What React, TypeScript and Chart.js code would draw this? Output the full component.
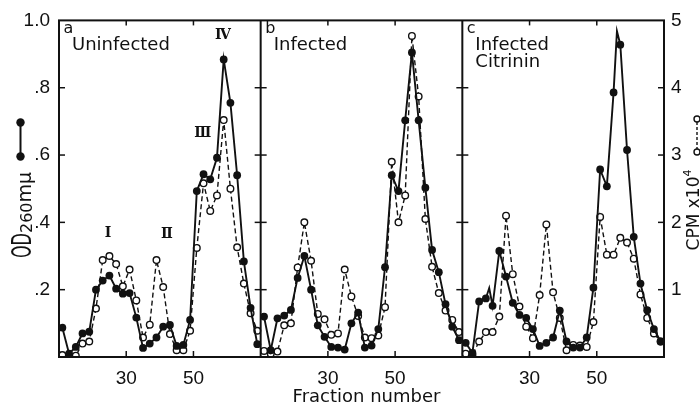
import React, { useEffect, useRef } from "react";
import { Chart, registerables } from "chart.js";

Chart.register(...registerables);

// ---------------- data ----------------
const fractions = [11, 13, 15, 17, 19, 21, 23, 25, 27, 29, 31, 33, 35, 37, 39, 41, 43, 45, 47, 49, 51, 53, 55, 57, 59, 61, 63, 65, 67, 69];

// a: Uninfected
const odUninfected = [0.087, 0.01, 0.03, 0.07, 0.075, 0.2, 0.227, 0.242, 0.203, 0.188, 0.19, 0.117, 0.027, 0.04, 0.058, 0.09, 0.095, 0.033, 0.036, 0.11, 0.493, 0.543, 0.528, 0.592, 0.884, 0.755, 0.54, 0.284, 0.146, 0.038];
const cpmUninfected = [0.03, 0.0, 0.02, 0.2, 0.23, 0.72, 1.44, 1.5, 1.38, 1.05, 1.3, 0.84, 0.29, 0.48, 1.44, 1.04, 0.34, 0.1, 0.1, 0.39, 1.62, 2.58, 2.17, 2.4, 3.52, 2.5, 1.63, 1.09, 0.65, 0.39];

// b: Infected
const odInfected = [0.12, 0.02, 0.115, 0.123, 0.14, 0.235, 0.3, 0.2, 0.094, 0.06, 0.03, 0.028, 0.022, 0.1, 0.132, 0.028, 0.034, 0.083, 0.267, 0.54, 0.493, 0.703, 0.905, 0.703, 0.503, 0.318, 0.252, 0.157, 0.09, 0.05];
const cpmInfected = [0.09, 0.05, 0.08, 0.47, 0.5, 1.33, 2.0, 1.43, 0.64, 0.56, 0.33, 0.35, 1.3, 0.9, 0.61, 0.29, 0.28, 0.32, 0.74, 2.9, 2.0, 2.4, 4.77, 3.87, 2.05, 1.34, 0.95, 0.69, 0.55, 0.37];

// c: Infected + Citrinin
const odCitrinin = [0.042, 0.012, 0.165, 0.174, 0.152, 0.315, 0.239, 0.161, 0.125, 0.116, 0.083, 0.033, 0.042, 0.058, 0.138, 0.046, 0.028, 0.028, 0.058, 0.206, 0.557, 0.507, 0.786, 0.928, 0.615, 0.357, 0.218, 0.139, 0.083, 0.046];
const cpmCitrinin = [0.05, 0.03, 0.23, 0.37, 0.37, 0.6, 2.1, 1.23, 0.75, 0.45, 0.28, 0.92, 1.97, 0.96, 0.58, 0.1, 0.18, 0.17, 0.15, 0.52, 2.08, 1.52, 1.52, 1.77, 1.7, 1.46, 0.93, 0.58, 0.35, 0.23];
// unmarked vertices of the hand-drawn OD trace in panel c
const citrininExtraFractions = [18, 56];
const citrininExtraOD = [0.205, 0.968];

const panelLetters = ["a", "b", "c"];
const panelTitleLines = [["Uninfected"], ["Infected"], ["Infected", "Citrinin"]];

const fractionMin = 10;
const fractionMax = 70;
const fractionTickLabels = [30, 50];
const odMax = 1.0;
const odStep = 0.2;
const cpmMax = 5;
const cpmStep = 1;

// peak labels in panel a (fraction, OD position)
const peakLabels = ["\u2160", "\u2161", "\u2162", "\u2163"];
const peakFractions = [24.6, 42.1, 52.8, 58.8];
const peakOD = [0.368, 0.365, 0.665, 0.955];

// ---------------- helpers ----------------
const INK = "#111";
const WORD_FONT = '"DejaVu Sans", "Noto Sans", sans-serif';
const NUM_FONT = '"Liberation Sans", Arial, sans-serif';
const span = fractionMax - fractionMin;
const toX = (panel: number, f: number) => panel * span + (f - fractionMin);

const panelSeries = [
  { od: odUninfected, cpm: cpmUninfected, exF: [] as number[], exOD: [] as number[] },
  { od: odInfected, cpm: cpmInfected, exF: [] as number[], exOD: [] as number[] },
  { od: odCitrinin, cpm: cpmCitrinin, exF: citrininExtraFractions, exOD: citrininExtraOD },
];

type Run = { text: string; size: number; family: string; dy: number; sx?: number; weight?: string };

function drawRuns(ctx: CanvasRenderingContext2D, runs: Run[], x: number, y: number, angle: number) {
  ctx.save();
  ctx.translate(x, y);
  ctx.rotate(angle);
  ctx.textAlign = "left";
  ctx.textBaseline = "alphabetic";
  const widths = runs.map((r) => {
    ctx.font = `${r.weight || "normal"} ${r.size}px ${r.family}`;
    return ctx.measureText(r.text).width * (r.sx ?? 1);
  });
  const total = widths.reduce((a, b) => a + b, 0);
  let cx = -total / 2;
  runs.forEach((r, i) => {
    ctx.font = `${r.weight || "normal"} ${r.size}px ${r.family}`;
    ctx.save();
    ctx.translate(cx, r.dy);
    ctx.scale(r.sx ?? 1, 1);
    ctx.fillText(r.text, 0, 0);
    ctx.restore();
    cx += widths[i];
  });
  ctx.restore();
}

function seg(ctx: CanvasRenderingContext2D, x1: number, y1: number, x2: number, y2: number) {
  ctx.beginPath();
  ctx.moveTo(x1, y1);
  ctx.lineTo(x2, y2);
  ctx.stroke();
}

const decorPlugin = {
  id: "figureDecor",
  afterDatasetsDraw(chart: any) {
    const { ctx, chartArea } = chart;
    const { left, right, top, bottom } = chartArea;
    const xs = chart.scales.x;
    const yo = chart.scales.yOD;
    ctx.save();
    ctx.strokeStyle = INK;
    ctx.fillStyle = INK;
    ctx.setLineDash([]);

    // frame and panel dividers
    ctx.lineWidth = 2;
    ctx.strokeRect(left, top, right - left, bottom - top);
    const dividers = [1, 2].map((k) => xs.getPixelForValue(k * span));
    dividers.forEach((px: number) => seg(ctx, px, top, px, bottom));

    // y ticks
    ctx.lineWidth = 1.5;
    for (let v = odStep; v < odMax - 1e-9; v += odStep) {
      const py = yo.getPixelForValue(v);
      seg(ctx, left, py, left + 6, py);
      dividers.forEach((px: number) => seg(ctx, px - 6, py, px + 6, py));
      seg(ctx, right - 6, py, right, py);
    }
    // x ticks (inward, top and bottom)
    for (let k = 0; k < 3; k++) {
      fractionTickLabels.forEach((f) => {
        const px = xs.getPixelForValue(toX(k, f));
        seg(ctx, px, top, px, top + 5);
        seg(ctx, px, bottom - 6, px, bottom);
      });
    }

    // panel letters and titles
    ctx.textAlign = "left";
    ctx.textBaseline = "middle";
    for (let k = 0; k < 3; k++) {
      const px0 = xs.getPixelForValue(toX(k, fractionMin));
      ctx.font = `16px ${WORD_FONT}`;
      ctx.fillText(panelLetters[k], px0 + 4.5, top + 8);
      ctx.font = `18px ${WORD_FONT}`;
      panelTitleLines[k].forEach((line, i) => {
        ctx.fillText(line, px0 + 13, top + 25 + i * 17);
      });
    }

    // peak roman numerals (panel a)
    ctx.textAlign = "center";
    ctx.font = `bold 14px "DejaVu Serif", "Liberation Serif", serif`;
    peakLabels.forEach((lab, i) => {
      ctx.fillText(lab, xs.getPixelForValue(toX(0, peakFractions[i])), yo.getPixelForValue(peakOD[i]));
    });

    // x-axis title
    ctx.textAlign = "center";
    ctx.textBaseline = "middle";
    ctx.font = `18px ${WORD_FONT}`;
    ctx.fillText("Fraction number", (left + right) / 2 + 5, 397);

    // left axis title: OD260mμ
    drawRuns(
      ctx,
      [
        { text: "OD", size: 26, family: WORD_FONT, dy: 0, sx: 0.62 },
        { text: "260", size: 16, family: WORD_FONT, dy: 1 },
        { text: "m\u03bc", size: 19, family: WORD_FONT, dy: 0 },
      ],
      31,
      215,
      -Math.PI / 2
    );
    // legend glyph: filled circles joined by solid line
    ctx.lineWidth = 2;
    seg(ctx, 20.5, 122.5, 20.5, 156.5);
    [122.5, 156.5].forEach((cy) => {
      ctx.beginPath();
      ctx.arc(20.5, cy, 4.2, 0, Math.PI * 2);
      ctx.fill();
    });

    // right axis title: CPM x10^4
    drawRuns(
      ctx,
      [
        { text: "CPM x10", size: 17, family: WORD_FONT, dy: 0 },
        { text: "4", size: 11, family: WORD_FONT, dy: -8 },
      ],
      699,
      210,
      -Math.PI / 2
    );
    // legend glyph: open circles joined by dashed line
    ctx.lineWidth = 1.4;
    ctx.setLineDash([3, 2]);
    seg(ctx, 697, 122, 697, 149);
    ctx.setLineDash([]);
    [119, 152].forEach((cy) => {
      ctx.beginPath();
      ctx.arc(697, cy, 3, 0, Math.PI * 2);
      ctx.fillStyle = "#fff";
      ctx.fill();
      ctx.stroke();
    });
    ctx.restore();
  },
};

function buildDatasets() {
  const sets: any[] = [];
  panelSeries.forEach((p, k) => {
    const odPts = fractions.map((f, i) => ({ x: toX(k, f), y: p.od[i], marked: true }));
    p.exF.forEach((f, i) => odPts.push({ x: toX(k, f), y: p.exOD[i], marked: false }));
    odPts.sort((a, b) => a.x - b.x);
    sets.push({
      label: `OD260 ${panelLetters[k]}`,
      data: odPts,
      yAxisID: "yOD",
      borderColor: INK,
      borderWidth: 1.9,
      pointRadius: (c: any) => (c.raw && c.raw.marked === false ? 0 : 3.9),
      pointBackgroundColor: INK,
      pointBorderColor: INK,
      pointBorderWidth: 0,
      tension: 0,
      order: 1,
    });
  });
  panelSeries.forEach((p, k) => {
    sets.push({
      label: `CPM ${panelLetters[k]}`,
      data: fractions.map((f, i) => ({ x: toX(k, f), y: p.cpm[i] })),
      yAxisID: "yCPM",
      borderColor: INK,
      borderWidth: 1.4,
      borderDash: [5, 3],
      pointRadius: 3.3,
      pointBackgroundColor: "#fff",
      pointBorderColor: INK,
      pointBorderWidth: 1.4,
      tension: 0,
      order: 2,
    });
  });
  return sets;
}

const xTickValues: number[] = [];
for (let k = 0; k < 3; k++) fractionTickLabels.forEach((f) => xTickValues.push(toX(k, f)));

export default function App() {
  const ref = useRef<HTMLCanvasElement>(null);
  useEffect(() => {
    const chart = new Chart(ref.current as HTMLCanvasElement, {
      type: "line",
      data: { datasets: buildDatasets() },
      options: {
        responsive: false,
        animation: false,
        layout: { padding: { top: 20, left: 0, right: 0, bottom: 0 } },
        plugins: { legend: { display: false }, tooltip: { enabled: false } },
        scales: {
          x: {
            type: "linear",
            position: "bottom",
            min: 0,
            max: 3 * span,
            afterBuildTicks: (s: any) => {
              s.ticks = xTickValues.map((v) => ({ value: v }));
            },
            afterFit: (s: any) => {
              s.height = 49;
            },
            grid: { display: false, drawTicks: false },
            border: { display: false },
            ticks: {
              autoSkip: false,
              maxRotation: 0,
              padding: 10,
              color: INK,
              font: { family: NUM_FONT, size: 19 },
              callback: (v: any) => String(Math.round((Number(v) % span) + fractionMin)),
            },
          },
          yOD: {
            type: "linear",
            position: "left",
            min: 0,
            max: odMax,
            afterFit: (s: any) => {
              s.width = 59;
            },
            grid: { display: false, drawTicks: false },
            border: { display: false },
            ticks: {
              stepSize: odStep,
              padding: 9,
              color: INK,
              font: { family: NUM_FONT, size: 19 },
              callback: (v: any) => {
                const n = Math.round(Number(v) * 10);
                if (n === 0) return "";
                if (n === 10) return "1.0";
                return "." + n;
              },
            },
          },
          yCPM: {
            type: "linear",
            position: "right",
            min: 0,
            max: cpmMax,
            afterFit: (s: any) => {
              s.width = 36;
            },
            grid: { display: false, drawTicks: false },
            border: { display: false },
            ticks: {
              stepSize: cpmStep,
              padding: 7,
              color: INK,
              font: { family: NUM_FONT, size: 19 },
              callback: (v: any) => (Number(v) === 0 ? "" : String(Math.round(Number(v)))),
            },
          },
        },
      },
      plugins: [decorPlugin],
    } as any);
    return () => chart.destroy();
  }, []);
  return (
    <div style={{ position: "fixed", left: 0, top: 0, width: 700, height: 406, background: "#fff" }}>
      <canvas ref={ref} width={700} height={406} style={{ display: "block", width: 700, height: 406 }} />
    </div>
  );
}
